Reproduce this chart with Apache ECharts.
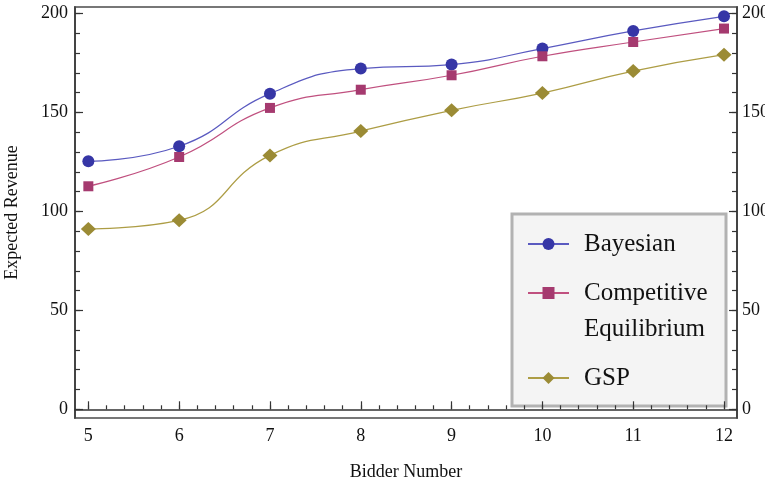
<!DOCTYPE html>
<html>
<head>
<meta charset="utf-8">
<script src="https://cdn.jsdelivr.net/npm/echarts@6/dist/echarts.min.js"></script>
<style>
  html, body { margin: 0; padding: 0; background: #fff; }
  #chart { width: 765px; height: 483px; }
</style>
</head>
<body>
<div id="chart"></div>
<script>
// values
const bidders = [5, 6, 7, 8, 9, 10, 11, 12]
const bayesian = [125.3, 132.9, 159.5, 172.2, 174.2, 182.3, 191.2, 198.6]
const competitive = [112.7, 127.5, 152.3, 161.5, 168.8, 178.4, 185.6, 192.4]
const gsp = [91.1, 95.5, 128.3, 140.6, 151.1, 159.8, 170.9, 179.2]

const xTicks = [5, 6, 7, 8, 9, 10, 11, 12]
const yTicks = [0, 50, 100, 150, 200]

// minor ticks: 5 parts per unit on x, every 10 on y
const xMinor = []
for (let v = 5; v <= 12.001; v += 0.2) xMinor.push(+v.toFixed(1))
const yMinor = []
for (let v = 0; v <= 200; v += 10) yMinor.push(v)

const FONT = 'Liberation Serif'
const X_MIN = 4.853, X_MAX = 12.143
const Y_MIN = -4.4, Y_MAX = 203.3

function pairs(ys) {
  return bidders.map((b, i) => [b, ys[i]])
}

function xAxisOf(ticks, len, labels) {
  return {
    type: 'value', position: 'bottom', min: X_MIN, max: X_MAX,
    splitLine: { show: false },
    axisLine: { show: labels, lineStyle: { color: '#333', width: 1.5 } },
    axisTick: { show: true, inside: true, length: len, customValues: ticks,
      lineStyle: { color: '#333', width: 1.2 } },
    axisLabel: labels ? { customValues: ticks, margin: 9, fontFamily: FONT, fontSize: 18, color: '#111' } : { show: false },
    name: labels ? 'Bidder Number' : '',
    nameLocation: 'middle', nameGap: 45,
    nameTextStyle: { fontFamily: FONT, fontSize: 18, color: '#111' }
  }
}

function yAxisOf(pos, ticks, len, labels, title) {
  return {
    type: 'value', position: pos, min: Y_MIN, max: Y_MAX,
    splitLine: { show: false },
    axisLine: { show: labels, lineStyle: { color: '#333', width: 1.5 } },
    axisTick: { show: true, inside: true, length: len, customValues: ticks,
      lineStyle: { color: '#333', width: 1.2 } },
    axisLabel: labels ? { customValues: ticks, margin: pos === 'left' ? 7 : 5, fontFamily: FONT, fontSize: 18, color: '#111' } : { show: false },
    name: title || '',
    nameLocation: 'middle', nameGap: 54,
    nameTextStyle: { fontFamily: FONT, fontSize: 18, color: '#111' }
  }
}

function legendOf(name, top, extra) {
  return {
    data: [name],
    orient: 'vertical',
    left: 527, top: top,
    padding: 0,
    itemWidth: 41, itemHeight: 15,
    selectedMode: false,
    // blank first line so the icon sits beside "Competitive"
    formatter: n => n === 'Competitive Equilibrium' ? ' \nCompetitive\nEquilibrium' : n,
    textStyle: Object.assign({ fontFamily: FONT, fontSize: 25, color: '#111', lineHeight: 30, padding: [0, 0, 0, 10] }, extra || {})
  }
}

const chart = echarts.init(document.getElementById('chart'), null, { renderer: 'canvas' })

chart.setOption({
  animation: false,
  backgroundColor: '#fff',
  grid: { left: 75, right: 28, top: 7, bottom: 65, outerBoundsMode: 'none', containLabel: false,
    show: true, borderColor: '#777', borderWidth: 2 },
  xAxis: [
    xAxisOf(xTicks, 8, true),
    xAxisOf(xMinor, 4, false)
  ],
  yAxis: [
    yAxisOf('left', yTicks, 8, true, 'Expected Revenue'),
    yAxisOf('right', yTicks, 8, true),
    yAxisOf('left', yMinor, 5, false),
    yAxisOf('right', yMinor, 5, false)
  ],
  graphic: [{
    type: 'rect',
    shape: { x: 512, y: 214, width: 214, height: 192 },
    style: { fill: '#f4f4f4', stroke: '#b2b2b2', lineWidth: 3 }
  }],
  legend: [
    legendOf('Bayesian', 229),
    legendOf('Competitive Equilibrium', 239, { lineHeight: 36 }),
    legendOf('GSP', 363)
  ],
  series: [
    {
      name: 'Bayesian', type: 'line', smooth: 0.5,
      data: pairs(bayesian),
      symbol: 'circle', symbolSize: 12,
      itemStyle: { color: '#3636a6' },
      lineStyle: { color: '#5a5ac0', width: 1.2 }
    },
    {
      name: 'Competitive Equilibrium', type: 'line', smooth: 0.5,
      data: pairs(competitive),
      symbol: 'rect', symbolSize: 10,
      itemStyle: { color: '#a53a6f' },
      lineStyle: { color: '#c0507f', width: 1.2 }
    },
    {
      name: 'GSP', type: 'line', smooth: 0.5,
      data: pairs(gsp),
      symbol: 'diamond', symbolSize: [15, 14],
      itemStyle: { color: '#9b8b35' },
      lineStyle: { color: '#ad9d45', width: 1.2 }
    }
  ]
})
</script>
</body>
</html>
